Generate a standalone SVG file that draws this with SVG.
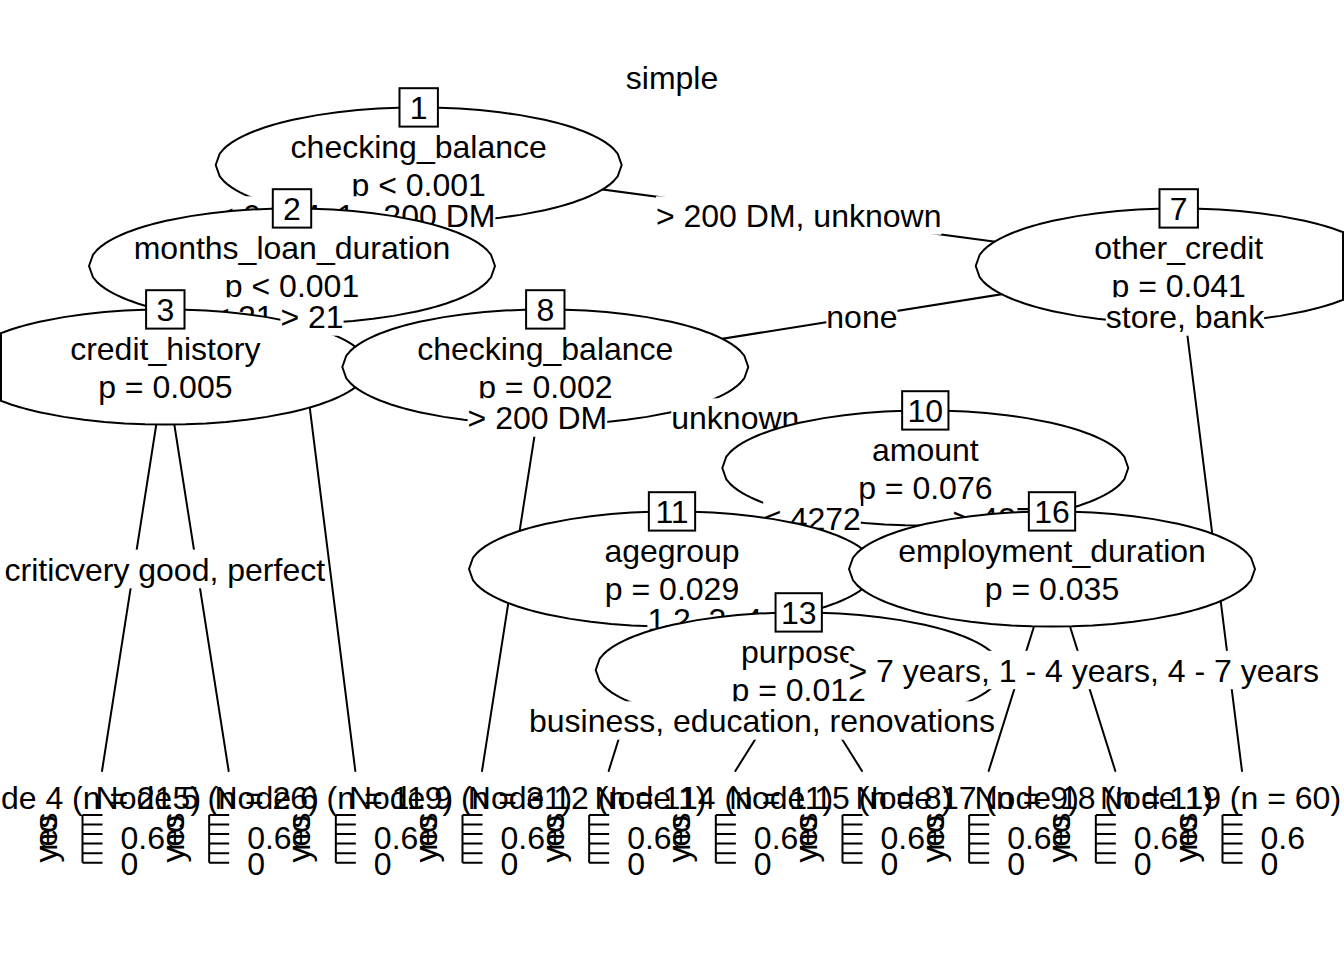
<svg xmlns="http://www.w3.org/2000/svg" width="1344" height="960" viewBox="0 0 1344 960">
<style>
.t{font-family:"Liberation Sans",Arial,sans-serif;font-size:32px;fill:#000}
.m{text-anchor:middle}
.ell{fill:#fff;stroke:#000;stroke-width:2;stroke-linejoin:round}
.box{fill:#fff;stroke:#000;stroke-width:2}
.edge{stroke:#000;stroke-width:2;fill:none;stroke-linecap:round}
.lb{fill:#fff;stroke:none}
.ax{stroke:#000;stroke-width:2;fill:none}
</style>
<defs>
<path id="ell" d="M-203,0 L-198.94,-11.46 L-194.88,-16.13 L-190.82,-19.65 L-186.76,-22.57 L-182.7,-25.11 L-178.64,-27.36 L-174.58,-29.39 L-170.52,-31.25 L-166.46,-32.97 L-162.4,-34.56 L-158.34,-36.04 L-154.28,-37.44 L-150.22,-38.74 L-146.16,-39.97 L-142.1,-41.13 L-138.04,-42.23 L-133.98,-43.27 L-129.92,-44.26 L-125.86,-45.19 L-121.8,-46.08 L-101.5,-49.88 L-81.2,-52.79 L-60.9,-54.95 L-40.6,-56.44 L-20.3,-57.31 L0,-57.6 L20.3,-57.31 L40.6,-56.44 L60.9,-54.95 L81.2,-52.79 L101.5,-49.88 L121.8,-46.08 L125.86,-45.19 L129.92,-44.26 L133.98,-43.27 L138.04,-42.23 L142.1,-41.13 L146.16,-39.97 L150.22,-38.74 L154.28,-37.44 L158.34,-36.04 L162.4,-34.56 L166.46,-32.97 L170.52,-31.25 L174.58,-29.39 L178.64,-27.36 L182.7,-25.11 L186.76,-22.57 L190.82,-19.65 L194.88,-16.13 L198.94,-11.46 L203,0 L198.94,11.46 L194.88,16.13 L190.82,19.65 L186.76,22.57 L182.7,25.11 L178.64,27.36 L174.58,29.39 L170.52,31.25 L166.46,32.97 L162.4,34.56 L158.34,36.04 L154.28,37.44 L150.22,38.74 L146.16,39.97 L142.1,41.13 L138.04,42.23 L133.98,43.27 L129.92,44.26 L125.86,45.19 L121.8,46.08 L101.5,49.88 L81.2,52.79 L60.9,54.95 L40.6,56.44 L20.3,57.31 L0,57.6 L-20.3,57.31 L-40.6,56.44 L-60.9,54.95 L-81.2,52.79 L-101.5,49.88 L-121.8,46.08 L-125.86,45.19 L-129.92,44.26 L-133.98,43.27 L-138.04,42.23 L-142.1,41.13 L-146.16,39.97 L-150.22,38.74 L-154.28,37.44 L-158.34,36.04 L-162.4,34.56 L-166.46,32.97 L-170.52,31.25 L-174.58,29.39 L-178.64,27.36 L-182.7,25.11 L-186.76,22.57 L-190.82,19.65 L-194.88,16.13 L-198.94,11.46 Z"/>
<path id="axis" d="M-19.5,815V862.7 M-19.5,815H0.5 M-19.5,824.5H0.5 M-19.5,834.1H0.5 M-19.5,843.6H0.5 M-19.5,853.2H0.5 M-19.5,862.7H0.5"/>
</defs>
<rect width="1344" height="960" fill="#fff"/>
<g id="title"><text class="t m" x="672" y="89">simple</text></g>

<g id="connectors" class="edge">
<line x1="418.7" y1="165" x2="292" y2="266"/>
<line x1="418.7" y1="165" x2="1178.7" y2="266"/>
<line x1="292" y1="266" x2="165.3" y2="367"/>
<line x1="292" y1="266" x2="355.33" y2="771"/>
<line x1="165.3" y1="367" x2="102" y2="771"/>
<line x1="165.3" y1="367" x2="228.67" y2="771"/>
<line x1="1178.7" y1="266" x2="545.3" y2="367"/>
<line x1="1178.7" y1="266" x2="1242" y2="771"/>
<line x1="545.3" y1="367" x2="482" y2="771"/>
<line x1="545.3" y1="367" x2="925.3" y2="468"/>
<line x1="925.3" y1="468" x2="672" y2="569"/>
<line x1="925.3" y1="468" x2="1052" y2="569"/>
<line x1="672" y1="569" x2="608.67" y2="771"/>
<line x1="672" y1="569" x2="798.7" y2="670"/>
<line x1="798.7" y1="670" x2="735.33" y2="771"/>
<line x1="798.7" y1="670" x2="862" y2="771"/>
<line x1="1052" y1="569" x2="988.67" y2="771"/>
<line x1="1052" y1="569" x2="1115.33" y2="771"/>
</g>

<g id="node-1" transform="translate(418.7 165)">
<use href="#ell" class="ell"/>
<text class="t m" y="-7.5">checking_balance</text>
<text class="t m" y="30.5">p &lt; 0.001</text>
<rect class="box" x="-19.2" y="-76.8" width="38.4" height="38.4"/>
<text class="t m" y="-46.1">1</text>
</g>
<g id="label-1-2"><rect class="lb" x="215.3" y="196.3" width="280.1" height="38.4"/><text class="t m" x="355.35" y="227">&lt; 0 DM, 1 - 200 DM</text></g>

<g id="node-2" transform="translate(292 266)">
<use href="#ell" class="ell"/>
<text class="t m" y="-7.5">months_loan_duration</text>
<text class="t m" y="30.5">p &lt; 0.001</text>
<rect class="box" x="-19.2" y="-76.8" width="38.4" height="38.4"/>
<text class="t m" y="-46.1">2</text>
</g>
<g id="label-2-3"><rect class="lb" x="211.6" y="297.3" width="62" height="38.4"/><text class="t m" x="242.6" y="328">≤ 21</text></g>

<g id="node-3" transform="translate(165.3 367)">
<use href="#ell" class="ell"/>
<line class="edge" x1="-164.3" y1="-33.4" x2="-164.3" y2="33.4"/>
<text class="t m" y="-7.5">credit_history</text>
<text class="t m" y="30.5">p = 0.005</text>
<rect class="box" x="-19.2" y="-76.8" width="38.4" height="38.4"/>
<text class="t m" y="-46.1">3</text>
</g>
<g id="label-3-4"><rect class="lb" x="3" y="549.8" width="261.4" height="38.4"/><text class="t" x="4.5" y="580.5">critical</text></g>

<g id="node-4" transform="translate(102 0)">
<text class="t m" x="-21.5" y="809">Node 4 (n = 215)</text>
<text class="t m" x="-45" y="837.5" transform="rotate(-90 -45 837.5)">yes</text>
<text class="t m" x="-45" y="833" transform="rotate(-90 -45 833)">no</text>
<use href="#axis" class="ax"/>
<text class="t" x="18.5" y="848.5">0.6</text>
<text class="t" x="18.5" y="875">0</text>
</g>
<g id="label-3-5"><rect class="lb" x="68.95" y="549.8" width="256.1" height="38.4"/><text class="t m" x="197" y="580.5">very good, perfect</text></g>
<g id="node-5" transform="translate(228.67 0)">
<text class="t m" x="-21.5" y="809">Node 5 (n = 26)</text>
<text class="t m" x="-45" y="837.5" transform="rotate(-90 -45 837.5)">yes</text>
<text class="t m" x="-45" y="833" transform="rotate(-90 -45 833)">no</text>
<use href="#axis" class="ax"/>
<text class="t" x="18.5" y="848.5">0.6</text>
<text class="t" x="18.5" y="875">0</text>
</g>
<g id="label-2-6"><rect class="lb" x="280.4" y="297.3" width="63.2" height="38.4"/><text class="t m" x="312" y="328">&gt; 21</text></g>
<g id="node-6" transform="translate(355.33 0)">
<text class="t m" x="-21.5" y="809">Node 6 (n = 119)</text>
<text class="t m" x="-45" y="837.5" transform="rotate(-90 -45 837.5)">yes</text>
<text class="t m" x="-45" y="833" transform="rotate(-90 -45 833)">no</text>
<use href="#axis" class="ax"/>
<text class="t" x="18.5" y="848.5">0.6</text>
<text class="t" x="18.5" y="875">0</text>
</g>

<g id="label-1-7"><rect class="lb" x="655.95" y="196.3" width="285.5" height="38.4"/><text class="t m" x="798.7" y="227">&gt; 200 DM, unknown</text></g>
<g id="node-7" transform="translate(1178.7 266)">
<use href="#ell" class="ell"/>
<line class="edge" x1="164.3" y1="-33.8" x2="164.3" y2="33.8"/>
<text class="t m" y="-7.5">other_credit</text>
<text class="t m" y="30.5">p = 0.041</text>
<rect class="box" x="-19.2" y="-76.8" width="38.4" height="38.4"/>
<text class="t m" y="-46.1">7</text>
</g>
<g id="label-7-8"><rect class="lb" x="826.3" y="297.3" width="71.2" height="38.4"/><text class="t m" x="861.9" y="328">none</text></g>

<g id="node-8" transform="translate(545.3 367)">
<use href="#ell" class="ell"/>
<text class="t m" y="-7.5">checking_balance</text>
<text class="t m" y="30.5">p = 0.002</text>
<rect class="box" x="-19.2" y="-76.8" width="38.4" height="38.4"/>
<text class="t m" y="-46.1">8</text>
</g>
<g id="label-8-9"><rect class="lb" x="467.6" y="398.3" width="139.6" height="38.4"/><text class="t m" x="537.4" y="429">&gt; 200 DM</text></g>
<g id="node-9" transform="translate(482 0)">
<text class="t m" x="-21.5" y="809">Node 9 (n = 31)</text>
<text class="t m" x="-45" y="837.5" transform="rotate(-90 -45 837.5)">yes</text>
<text class="t m" x="-45" y="833" transform="rotate(-90 -45 833)">no</text>
<use href="#axis" class="ax"/>
<text class="t" x="18.5" y="848.5">0.6</text>
<text class="t" x="18.5" y="875">0</text>
</g>
<g id="label-8-10"><rect class="lb" x="671.25" y="398.3" width="128.1" height="38.4"/><text class="t m" x="735.3" y="429">unknown</text></g>

<g id="node-10" transform="translate(925.3 468)">
<use href="#ell" class="ell"/>
<text class="t m" y="-7.5">amount</text>
<text class="t m" y="30.5">p = 0.076</text>
<rect class="box" x="-23.15" y="-76.8" width="46.3" height="38.4"/>
<text class="t m" y="-46.1">10</text>
</g>
<g id="label-10-11"><rect class="lb" x="763.2" y="499.3" width="97.6" height="38.4"/><text class="t m" x="812" y="530">≤ 4272</text></g>

<g id="node-11" transform="translate(672 569)">
<use href="#ell" class="ell"/>
<text class="t m" y="-7.5">agegroup</text>
<text class="t m" y="30.5">p = 0.029</text>
<rect class="box" x="-23.15" y="-76.8" width="46.3" height="38.4"/>
<text class="t m" y="-46.1">11</text>
</g>
<g id="label-11-12"><rect class="lb" x="647.4" y="600.3" width="17.8" height="38.4"/><text class="t m" x="656.3" y="631">1</text></g>
<g id="node-12" transform="translate(608.67 0)">
<text class="t m" x="-21.5" y="809">Node 12 (n = 11)</text>
<text class="t m" x="-45" y="837.5" transform="rotate(-90 -45 837.5)">yes</text>
<text class="t m" x="-45" y="833" transform="rotate(-90 -45 833)">no</text>
<use href="#axis" class="ax"/>
<text class="t" x="18.5" y="848.5">0.6</text>
<text class="t" x="18.5" y="875">0</text>
</g>
<g id="label-11-13"><rect class="lb" x="673.05" y="600.3" width="124.5" height="38.4"/><text class="t m" x="735.3" y="631">2, 3, 4, 5</text></g>

<g id="node-13" transform="translate(798.7 670)">
<use href="#ell" class="ell"/>
<text class="t m" y="-7.5">purpose</text>
<text class="t m" y="30.5">p = 0.012</text>
<rect class="box" x="-23.15" y="-76.8" width="46.3" height="38.4"/>
<text class="t m" y="-46.1">13</text>
</g>
<g id="label-13-14"><rect class="lb" x="529" y="701.3" width="466" height="38.4"/><text class="t m" x="762" y="732">business, education, renovations</text></g>
<g id="node-14" transform="translate(735.33 0)">
<text class="t m" x="-21.5" y="809">Node 14 (n = 11)</text>
<text class="t m" x="-45" y="837.5" transform="rotate(-90 -45 837.5)">yes</text>
<text class="t m" x="-45" y="833" transform="rotate(-90 -45 833)">no</text>
<use href="#axis" class="ax"/>
<text class="t" x="18.5" y="848.5">0.6</text>
<text class="t" x="18.5" y="875">0</text>
</g>
<g id="node-15" transform="translate(862 0)">
<text class="t m" x="-21.5" y="809">Node 15 (n = 8)</text>
<text class="t m" x="-45" y="837.5" transform="rotate(-90 -45 837.5)">yes</text>
<text class="t m" x="-45" y="833" transform="rotate(-90 -45 833)">no</text>
<use href="#axis" class="ax"/>
<text class="t" x="18.5" y="848.5">0.6</text>
<text class="t" x="18.5" y="875">0</text>
</g>

<g id="label-10-16"><rect class="lb" x="952.6" y="499.3" width="98.8" height="38.4"/><text class="t m" x="1002" y="530">&gt; 4272</text></g>
<g id="node-16" transform="translate(1052 569)">
<use href="#ell" class="ell"/>
<text class="t m" y="-7.5">employment_duration</text>
<text class="t m" y="30.5">p = 0.035</text>
<rect class="box" x="-23.15" y="-76.8" width="46.3" height="38.4"/>
<text class="t m" y="-46.1">16</text>
</g>
<g id="node-17" transform="translate(988.67 0)">
<text class="t m" x="-21.5" y="809">Node 17 (n = 9)</text>
<text class="t m" x="-45" y="837.5" transform="rotate(-90 -45 837.5)">yes</text>
<text class="t m" x="-45" y="833" transform="rotate(-90 -45 833)">no</text>
<use href="#axis" class="ax"/>
<text class="t" x="18.5" y="848.5">0.6</text>
<text class="t" x="18.5" y="875">0</text>
</g>
<g id="label-16-18"><rect class="lb" x="848.5" y="650.8" width="470.4" height="38.4"/><text class="t m" x="1083.7" y="681.5">&gt; 7 years, 1 - 4 years, 4 - 7 years</text></g>
<g id="node-18" transform="translate(1115.33 0)">
<text class="t m" x="-21.5" y="809">Node 18 (n = 11)</text>
<text class="t m" x="-45" y="837.5" transform="rotate(-90 -45 837.5)">yes</text>
<text class="t m" x="-45" y="833" transform="rotate(-90 -45 833)">no</text>
<use href="#axis" class="ax"/>
<text class="t" x="18.5" y="848.5">0.6</text>
<text class="t" x="18.5" y="875">0</text>
</g>
<g id="label-7-19"><rect class="lb" x="1105.85" y="297.3" width="158.3" height="38.4"/><text class="t m" x="1185" y="328">store, bank</text></g>
<g id="node-19" transform="translate(1242 0)">
<text class="t m" x="-21.5" y="809">Node 19 (n = 60)</text>
<text class="t m" x="-45" y="837.5" transform="rotate(-90 -45 837.5)">yes</text>
<text class="t m" x="-45" y="833" transform="rotate(-90 -45 833)">no</text>
<use href="#axis" class="ax"/>
<text class="t" x="18.5" y="848.5">0.6</text>
<text class="t" x="18.5" y="875">0</text>
</g>
</svg>
